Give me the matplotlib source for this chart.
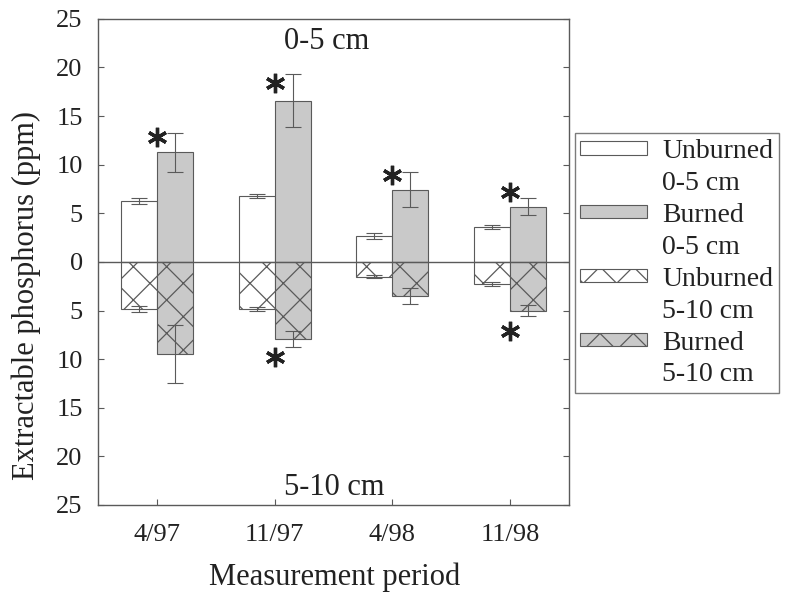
import numpy as np
import matplotlib
matplotlib.use("Agg")
import matplotlib.pyplot as plt
import matplotlib.patches as mpatches

# extractable P (ppm)
periods = ["4/97", "11/97", "4/98", "11/98"]
unburned_top = [6.3, 6.8, 2.7, 3.6]
unburned_top_err = [0.3, 0.2, 0.3, 0.2]
burned_top = [11.3, 16.6, 7.4, 5.7]
burned_top_err = [2.0, 2.7, 1.8, 0.9]
unburned_sub = [4.8, 4.8, 1.5, 2.3]
unburned_sub_err = [0.3, 0.2, 0.2, 0.2]
burned_sub = [9.5, 7.9, 3.5, 5.0]
burned_sub_err = [3.0, 0.8, 0.8, 0.6]

# significance asterisks (index of period, y position)
star_top_idx = [0, 1, 2, 3]
star_top_y = [12.9, 18.4, 8.9, 7.2]
star_sub_idx = [1, 3]
star_sub_y = [-9.8, -7.1]

plt.rcParams['font.family'] = ['Liberation Serif', 'DejaVu Serif']
plt.rcParams['hatch.linewidth'] = 0.9

edge = '#5a5a5a'
gray = '#c9c9c9'
txt = '#222222'

fig = plt.figure(figsize=(7.85, 5.95), dpi=100)
ax = fig.add_axes([0.1248, 0.1513, 0.600, 0.817])

x = np.arange(len(periods))
w = 0.305
lw = 0.8
ekw = dict(ecolor=edge, elinewidth=0.8, capsize=5.5, capthick=0.8)

ax.bar(x - w/2, unburned_top, w, color='white', edgecolor=edge, lw=lw,
       yerr=unburned_top_err, error_kw=ekw, zorder=2)
ax.bar(x + w/2, burned_top, w, color=gray, edgecolor=edge, lw=lw,
       yerr=burned_top_err, error_kw=ekw, zorder=2)
ax.bar(x - w/2, -np.array(unburned_sub), w, color='white', edgecolor=edge, lw=lw,
       hatch='x', yerr=unburned_sub_err, error_kw=ekw, zorder=2)
ax.bar(x + w/2, -np.array(burned_sub), w, color=gray, edgecolor=edge, lw=lw,
       hatch='x', yerr=burned_sub_err, error_kw=ekw, zorder=2)

ax.axhline(0, color=edge, lw=1.0, zorder=3)

ax.plot(x[star_top_idx], star_top_y, ls='none', marker=(6, 2, 0),
        ms=14, mew=2.4, color=txt, zorder=4)
ax.plot(x[star_sub_idx], star_sub_y, ls='none', marker=(6, 2, 0),
        ms=14, mew=2.4, color=txt, zorder=4)

ax.text(0.485, 0.953, "0-5 cm", transform=ax.transAxes, ha='center',
        va='center', fontsize=22, color=txt)
ax.text(0.502, 0.035, "5-10 cm", transform=ax.transAxes, ha='center',
        va='center', fontsize=22, color=txt)

ax.set_xlim(-0.5, 3.5)
ax.set_ylim(-25, 25)
yt = np.arange(-25, 26, 5)
ax.set_yticks(yt)
ax.set_yticklabels([str(abs(v)) for v in yt])
ax.set_xticks(x)
ax.set_xticklabels(periods)

ax.tick_params(axis='y', direction='in', length=4, width=0.8, color=edge,
               labelsize=19, pad=11, right=True, labelcolor=txt)
ax.tick_params(axis='x', direction='in', length=4, width=0.8, color=edge,
               labelsize=19, pad=14, labelcolor=txt)
for s in ax.spines.values():
    s.set_color(edge)
    s.set_linewidth(1.0)

ax.set_ylabel("Extractable phosphorus (ppm)", fontsize=22, color=txt)
ax.set_xlabel("Measurement period", fontsize=22, color=txt)
ax.yaxis.set_label_coords(-0.122, 0.43)
ax.xaxis.set_label_coords(0.503, -0.118)

# legend: one handle per label, second line gets an empty handle
blank = mpatches.Patch(fc='none', ec='none')
handles = [
    mpatches.Patch(fc='white', ec=edge, lw=lw), blank,
    mpatches.Patch(fc=gray, ec=edge, lw=lw), blank,
    mpatches.Patch(fc='white', ec=edge, lw=lw, hatch='x'), blank,
    mpatches.Patch(fc=gray, ec=edge, lw=lw, hatch='x'), blank,
]
labels = ["Unburned", "0-5 cm", "Burned", "0-5 cm",
          "Unburned", "5-10 cm", "Burned", "5-10 cm"]
leg = fig.legend(handles, labels, loc='upper left', bbox_to_anchor=(0.732, 0.776),
                 bbox_transform=fig.transFigure, borderaxespad=0, fontsize=20,
                 frameon=True, fancybox=False, handlelength=2.4, handleheight=0.36,
                 handletextpad=0.55, labelspacing=0.25, borderpad=0.2,
                 labelcolor=txt)
leg.get_frame().set_edgecolor(edge)
leg.get_frame().set_linewidth(1.0)

fig.savefig("out.png", dpi=100)
